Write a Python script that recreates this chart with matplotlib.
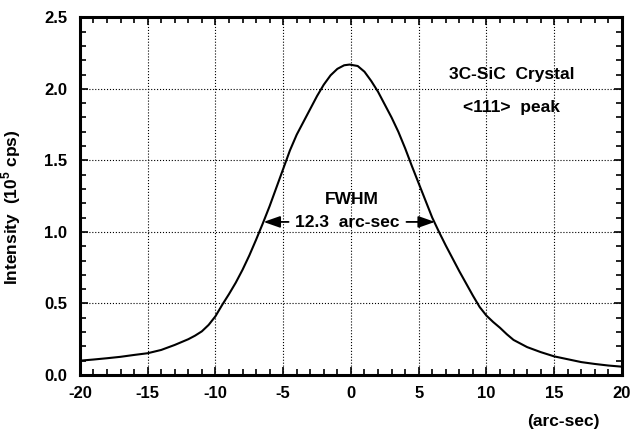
import matplotlib
matplotlib.use("Agg")
import matplotlib.pyplot as plt
from matplotlib.ticker import MultipleLocator

plt.rcParams['font.family'] = ['Liberation Sans', 'DejaVu Sans']
plt.rcParams['font.weight'] = 'bold'
plt.rcParams['mathtext.fontset'] = 'custom'
plt.rcParams['mathtext.bf'] = 'Liberation Sans:bold'
plt.rcParams['mathtext.rm'] = 'Liberation Sans:bold'

# rocking curve
angle = [-20, -19, -18, -17, -16, -15, -14, -13, -12, -11.5, -11, -10.5,
         -10, -9.5, -9, -8.5, -8, -7.5, -7, -6.5, -6, -5.5, -5, -4.5, -4,
         -3.5, -3, -2.5, -2, -1.5, -1, -0.5, -0.1, 0.5, 1, 1.5, 2, 2.5, 3,
         3.5, 4, 4.5, 5, 5.5, 6, 6.5, 7, 7.5, 8, 8.5, 9, 9.5, 10, 10.5, 11,
         11.5, 12, 13, 14, 15, 16, 17, 18, 19, 20]
intensity = [0.10, 0.108, 0.117, 0.127, 0.14, 0.152, 0.175, 0.21, 0.25,
             0.275, 0.305, 0.35, 0.41, 0.49, 0.565, 0.645, 0.735, 0.835,
             0.945, 1.06, 1.18, 1.31, 1.44, 1.57, 1.68, 1.77, 1.86, 1.95,
             2.03, 2.095, 2.14, 2.165, 2.17, 2.16, 2.12, 2.055, 1.98, 1.89,
             1.80, 1.70, 1.585, 1.46, 1.34, 1.22, 1.10, 1.00, 0.905, 0.815,
             0.725, 0.64, 0.555, 0.475, 0.415, 0.37, 0.33, 0.285, 0.245,
             0.195, 0.16, 0.13, 0.11, 0.09, 0.077, 0.066, 0.058]

x_ticks = [-20, -15, -10, -5, 0, 5, 10, 15, 20]
y_ticks = [0.0, 0.5, 1.0, 1.5, 2.0, 2.5]

fig = plt.figure(figsize=(6.34, 4.34), dpi=100)
ax = fig.add_axes([0.126, 0.136, 0.855, 0.824])

ax.plot(angle, intensity, color='black', linewidth=1.5)

ax.set_xlim(-20, 20)
ax.set_ylim(0, 2.5)
ax.set_xticks(x_ticks)
ax.set_yticks(y_ticks)
ax.set_xticklabels([str(t) for t in x_ticks])
ax.set_yticklabels(['%.1f' % t for t in y_ticks])
ax.xaxis.set_minor_locator(MultipleLocator(1))
ax.yaxis.set_minor_locator(MultipleLocator(0.1))
ax.tick_params(which='both', direction='in', top=True, right=True,
               width=1.2, labelsize=12)
ax.tick_params(which='major', length=6)
ax.tick_params(which='minor', length=4)
ax.tick_params(axis='x', pad=8)
ax.tick_params(axis='y', pad=9)
for lab in ax.get_xticklabels() + ax.get_yticklabels():
    lab.set_fontweight('bold')
for s in ax.spines.values():
    s.set_linewidth(2.2)

ax.grid(True, which='major', linestyle=':', color='black', linewidth=0.8)

ax.set_ylabel(r'Intensity  (10$^{\mathbf{5}}$ cps)', fontsize=12.5,
              fontweight='bold')
ax.yaxis.set_label_coords(-0.105, 0.47)
fig.text(0.889, 0.012, '(arc-sec)', fontsize=12.5, fontweight='bold',
         ha='center', va='bottom')

ax.text(11.85, 2.10, '3C-SiC  Crystal', fontsize=12.5, fontweight='bold',
        ha='center', va='center')
ax.text(11.85, 1.87, '<111>  peak', fontsize=12.5, fontweight='bold',
        ha='center', va='center')
ax.text(0.1, 1.23, 'FWHM', fontsize=12.5, fontweight='bold',
        ha='center', va='center')
ax.text(-0.25, 1.065, '12.3  arc-sec', fontsize=12.5, fontweight='bold',
        ha='center', va='center')
arrow = dict(arrowstyle='-|>,head_length=1.0,head_width=0.35',
             color='black', linewidth=1.3, shrinkA=0, shrinkB=0)
ax.annotate('', xy=(-6.45, 1.07), xytext=(-4.6, 1.07), arrowprops=arrow)
ax.annotate('', xy=(6.2, 1.07), xytext=(4.1, 1.07), arrowprops=arrow)

fig.savefig('out.png', dpi=100)
